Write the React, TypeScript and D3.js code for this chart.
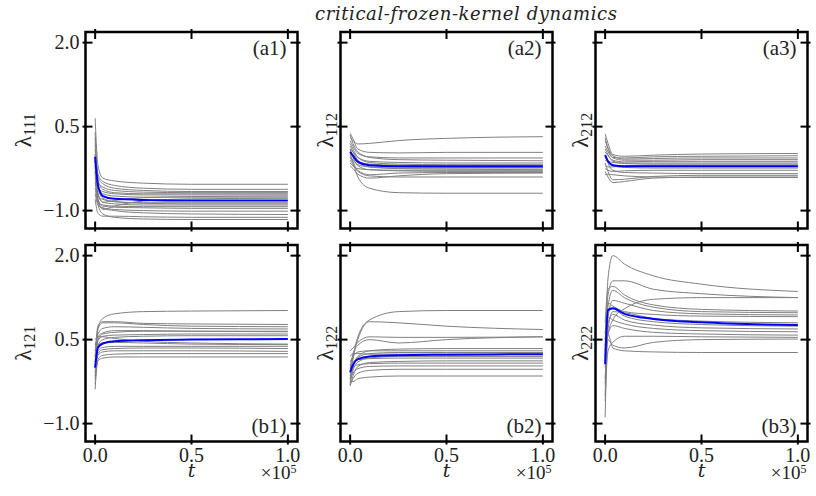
import React from "react";
import * as d3 from "d3";

// ---------- data ----------
const tGrid = [0, 0.015, 0.04, 0.1, 0.25, 0.5, 1.0];
const xTicks = [0, 0.5, 1.0];
const xTickLabels = ["0.0", "0.5", "1.0"];
const yTicks = [-1.0, 0.5, 2.0];
const yTickLabels = ["\u22121.0", "0.5", "2.0"];
const panelTags = ["(a1)", "(a2)", "(a3)", "(b1)", "(b2)", "(b3)"];
const ySubscripts = ["111", "112", "212", "121", "122", "222"];
const titleText = "critical-frozen-kernel dynamics";

const a1Gray = [
  [0.65, -0.2, -0.42, -0.47, -0.51, -0.53, -0.53],
  [0.3, -0.35, -0.48, -0.55, -0.6, -0.62, -0.62],
  [0.1, -0.4, -0.52, -0.6, -0.64, -0.66, -0.66],
  [-0.1, -0.5, -0.58, -0.64, -0.67, -0.68, -0.68],
  [0.2, -0.45, -0.62, -0.68, -0.7, -0.7, -0.7],
  [-0.3, -0.6, -0.66, -0.7, -0.72, -0.72, -0.72],
  [-0.2, -0.7, -0.85, -0.82, -0.77, -0.75, -0.74],
  [0.0, -0.55, -0.7, -0.74, -0.76, -0.76, -0.76],
  [-0.4, -0.8, -0.98, -0.92, -0.83, -0.79, -0.78],
  [-0.5, -0.75, -0.8, -0.84, -0.86, -0.86, -0.86],
  [0.4, -0.6, -0.78, -0.84, -0.87, -0.88, -0.88],
  [-0.2, -0.7, -0.85, -0.88, -0.9, -0.9, -0.9],
  [-0.6, -0.85, -0.9, -0.92, -0.93, -0.93, -0.93],
  [-0.1, -0.8, -0.92, -0.94, -0.95, -0.96, -0.96],
  [-0.7, -0.9, -0.95, -0.98, -1.0, -1.01, -1.01],
  [-0.3, -0.85, -0.96, -1.0, -1.04, -1.06, -1.07],
  [-0.8, -1.05, -1.1, -1.1, -1.11, -1.12, -1.12],
  [0.0, -0.9, -1.06, -1.12, -1.15, -1.16, -1.16],
];
const a1Mean = [-0.04, -0.55, -0.74, -0.79, -0.81, -0.82, -0.82];

const a2Gray = [
  [0.3, 0.25, 0.19, 0.2, 0.25, 0.29, 0.32],
  [0.38, 0.28, 0.1, 0.04, 0.03, 0.04, 0.04],
  [0.25, 0.15, 0.02, -0.04, -0.06, -0.06, -0.06],
  [0.35, 0.2, 0.05, -0.05, -0.09, -0.1, -0.11],
  [0.1, 0.05, -0.05, -0.12, -0.14, -0.15, -0.15],
  [0.2, 0.1, -0.05, -0.14, -0.17, -0.18, -0.18],
  [0.0, -0.05, -0.12, -0.17, -0.19, -0.2, -0.2],
  [0.15, 0.05, -0.1, -0.19, -0.22, -0.23, -0.23],
  [-0.05, -0.1, -0.18, -0.22, -0.24, -0.24, -0.24],
  [0.05, -0.02, -0.14, -0.22, -0.25, -0.26, -0.27],
  [-0.15, -0.2, -0.25, -0.27, -0.28, -0.28, -0.28],
  [0.1, -0.05, -0.2, -0.27, -0.29, -0.3, -0.3],
  [-0.1, -0.18, -0.28, -0.36, -0.33, -0.32, -0.32],
  [-0.2, -0.25, -0.35, -0.42, -0.38, -0.34, -0.33],
  [0.0, -0.12, -0.3, -0.38, -0.4, -0.4, -0.4],
  [-0.05, -0.15, -0.4, -0.6, -0.68, -0.69, -0.69],
];
const a2Mean = [0.05, -0.02, -0.13, -0.19, -0.21, -0.21, -0.21];

const a3Gray = [
  [0.37, 0.2, 0.0, -0.03, -0.01, 0.01, 0.02],
  [0.25, 0.1, -0.05, -0.06, -0.04, -0.03, -0.02],
  [0.3, 0.12, -0.02, -0.08, -0.07, -0.06, -0.06],
  [0.15, 0.05, -0.06, -0.1, -0.1, -0.09, -0.09],
  [0.05, -0.02, -0.1, -0.13, -0.12, -0.12, -0.12],
  [-0.1, -0.12, -0.14, -0.15, -0.15, -0.15, -0.15],
  [0.1, 0.0, -0.12, -0.16, -0.17, -0.17, -0.17],
  [-0.2, -0.22, -0.22, -0.2, -0.19, -0.19, -0.19],
  [-0.05, -0.12, -0.2, -0.23, -0.24, -0.24, -0.24],
  [-0.25, -0.28, -0.3, -0.29, -0.28, -0.28, -0.28],
  [0.0, -0.15, -0.28, -0.32, -0.33, -0.34, -0.34],
  [-0.15, -0.3, -0.45, -0.44, -0.39, -0.37, -0.37],
  [-0.3, -0.4, -0.5, -0.48, -0.42, -0.4, -0.4],
  [-0.36, -0.35, -0.36, -0.38, -0.4, -0.41, -0.41],
];
const a3Mean = [-0.01, -0.12, -0.19, -0.21, -0.21, -0.21, -0.21];

const b1Gray = [
  [0.0, 0.7, 0.88, 0.96, 1.0, 1.01, 1.02],
  [0.2, 0.75, 0.82, 0.82, 0.79, 0.78, 0.77],
  [0.1, 0.7, 0.8, 0.8, 0.77, 0.74, 0.73],
  [0.3, 0.6, 0.7, 0.73, 0.72, 0.7, 0.69],
  [-0.1, 0.5, 0.6, 0.63, 0.65, 0.65, 0.65],
  [0.4, 0.55, 0.62, 0.66, 0.66, 0.65, 0.64],
  [0.2, 0.48, 0.56, 0.58, 0.59, 0.6, 0.6],
  [-0.2, 0.4, 0.5, 0.54, 0.56, 0.57, 0.57],
  [0.5, 0.55, 0.55, 0.52, 0.47, 0.44, 0.42],
  [0.1, 0.3, 0.36, 0.38, 0.38, 0.38, 0.38],
  [-0.3, 0.25, 0.32, 0.34, 0.35, 0.35, 0.34],
  [0.0, 0.22, 0.28, 0.3, 0.3, 0.3, 0.29],
  [-0.39, 0.15, 0.22, 0.24, 0.25, 0.25, 0.25],
  [-0.15, 0.12, 0.17, 0.19, 0.19, 0.19, 0.19],
  [0.3, 0.4, 0.44, 0.45, 0.44, 0.42, 0.41],
];
const b1Mean = [0.0, 0.36, 0.43, 0.47, 0.49, 0.5, 0.51];

const b2Gray = [
  [-0.1, 0.2, 0.55, 0.85, 1.0, 1.02, 1.02],
  [-0.2, 0.15, 0.5, 0.82, 0.8, 0.74, 0.68],
  [0.0, 0.25, 0.4, 0.5, 0.44, 0.5, 0.55],
  [0.3, 0.35, 0.45, 0.55, 0.54, 0.54, 0.55],
  [-0.3, 0.0, 0.2, 0.3, 0.33, 0.34, 0.34],
  [0.1, 0.2, 0.28, 0.3, 0.3, 0.3, 0.3],
  [-0.15, 0.05, 0.18, 0.25, 0.27, 0.27, 0.27],
  [0.2, 0.25, 0.25, 0.24, 0.24, 0.24, 0.24],
  [-0.25, -0.05, 0.1, 0.17, 0.2, 0.2, 0.2],
  [0.05, 0.1, 0.14, 0.16, 0.17, 0.17, 0.17],
  [-0.33, -0.15, 0.02, 0.09, 0.11, 0.12, 0.12],
  [-0.1, 0.0, 0.05, 0.07, 0.08, 0.08, 0.08],
  [-0.2, -0.1, -0.02, 0.02, 0.03, 0.03, 0.03],
  [-0.3, -0.2, -0.1, -0.05, -0.03, -0.03, -0.03],
  [-0.25, -0.25, -0.2, -0.17, -0.15, -0.15, -0.15],
];
const b2Mean = [-0.08, 0.05, 0.15, 0.2, 0.22, 0.23, 0.24];

const b3Gray = [
  [0.2, 1.6, 2.0, 1.85, 1.64, 1.49, 1.36],
  [0.4, 1.3, 1.55, 1.55, 1.4, 1.32, 1.25],
  [-0.2, 0.6, 0.85, 1.05, 1.22, 1.25, 1.25],
  [0.8, 1.4, 1.45, 1.3, 1.12, 1.04, 1.01],
  [0.1, 1.1, 1.38, 1.25, 1.08, 1.0, 0.98],
  [-0.5, 0.9, 1.2, 1.15, 1.02, 0.96, 0.94],
  [0.6, 1.15, 1.1, 1.0, 0.95, 0.92, 0.91],
  [-0.89, 0.7, 1.0, 0.98, 0.88, 0.83, 0.8],
  [0.3, 1.0, 1.05, 0.92, 0.82, 0.77, 0.74],
  [-0.3, 0.8, 0.95, 0.85, 0.76, 0.71, 0.69],
  [0.5, 0.9, 0.85, 0.78, 0.7, 0.66, 0.64],
  [0.0, 0.6, 0.75, 0.7, 0.63, 0.6, 0.58],
  [-0.6, 0.3, 0.45, 0.56, 0.56, 0.55, 0.54],
  [0.2, 0.5, 0.4, 0.35, 0.45, 0.5, 0.51],
  [0.4, 0.6, 0.35, 0.3, 0.28, 0.27, 0.27],
];
const b3Mean = [0.06, 1.03, 1.06, 0.96, 0.87, 0.81, 0.76];

const grayGroups = [a1Gray, a2Gray, a3Gray, b1Gray, b2Gray, b3Gray];
const meanGroups = [a1Mean, a2Mean, a3Mean, b1Mean, b2Mean, b3Mean];

// ---------- layout ----------
const W = 816;
const H = 496;
const colLefts = [85.5, 340.5, 595.5];
const rowTops = [32, 245];
const PW = 212;
const PH = 196.5;
const FONT = '"Liberation Serif", "DejaVu Serif", serif';
const ITALIC_FONT = '"DejaVu Serif", serif';
const txt = { fontFamily: FONT };
const itx = { fontFamily: ITALIC_FONT };

function Panel({ idx }: { idx: number }) {
  const row = Math.floor(idx / 3);
  const col = idx % 3;
  const left = colLefts[col];
  const top = rowTops[row];
  const x = d3.scaleLinear().domain([-0.05, 1.05]).range([left, left + PW]);
  const y = d3.scaleLinear().domain([-1.32, 2.19]).range([top + PH, top]);
  const line = d3
    .line<number>()
    .x((_, i) => x(tGrid[i]))
    .y((v) => y(v))
    .curve(d3.curveMonotoneX);
  const clipId = `clip${idx}`;
  const tickIn = 7;
  const tickOut = 3;
  const right = left + PW;
  const bottom = top + PH;
  return (
    <g>
      <defs>
        <clipPath id={clipId}>
          <rect x={left} y={top} width={PW} height={PH} />
        </clipPath>
      </defs>
      <g clipPath={`url(#${clipId})`}>
        {grayGroups[idx].map((s, i) => (
          <path key={i} d={line(s) || ""} fill="none" stroke="#808080" strokeWidth={1} />
        ))}
        <path d={line(meanGroups[idx]) || ""} fill="none" stroke="#0000ff" strokeWidth={2} />
      </g>
      <rect x={left} y={top} width={PW} height={PH} fill="none" stroke="#000" strokeWidth={2.5} />
      {xTicks.map((t, i) => (
        <g key={"xt" + i} stroke="#000" strokeWidth={2}>
          <line x1={x(t)} x2={x(t)} y1={top - tickOut} y2={top + tickIn} />
          <line x1={x(t)} x2={x(t)} y1={bottom + tickOut} y2={bottom - tickIn} />
        </g>
      ))}
      {yTicks.map((v, i) => (
        <g key={"yt" + i} stroke="#000" strokeWidth={2}>
          <line x1={left - tickOut} x2={left + tickIn} y1={y(v)} y2={y(v)} />
          <line x1={right + tickOut} x2={right - tickIn} y1={y(v)} y2={y(v)} />
        </g>
      ))}
      {col === 0 &&
        yTicks.map((v, i) => (
          <text key={"yl" + i} x={left - 6} y={y(v) + 6.5} textAnchor="end" fontSize={20} style={txt} fill="#222">
            {yTickLabels[i]}
          </text>
        ))}
      {row === 1 && (
        <g fill="#222">
          {xTicks.map((t, i) => (
            <text key={"xl" + i} x={x(t)} y={bottom + 20.5} textAnchor="middle" fontSize={20} style={txt}>
              {xTickLabels[i]}
            </text>
          ))}
          <text x={x(0.5)} y={bottom + 35.5} textAnchor="middle" fontSize={19} fontStyle="italic" style={itx}>
            t
          </text>
          <text x={right - 1} y={bottom + 37} textAnchor="end" fontSize={19} style={txt}>
            ×10
            <tspan fontSize={12} dy={-6}>5</tspan>
          </text>
        </g>
      )}
      <text
        x={right - 11}
        y={row === 0 ? top + 23 : bottom - 9}
        textAnchor="end"
        fontSize={21}
        style={txt}
        fill="#222"
      >
        {panelTags[idx]}
      </text>
      <text
        transform={`translate(${col === 0 ? left - 55 : left - 8},${top + PH / 2}) rotate(-90)`}
        textAnchor="middle"
        style={txt}
        fill="#222"
      >
        <tspan fontSize={23}>λ</tspan>
        <tspan fontSize={16} dy={4}>{ySubscripts[idx]}</tspan>
      </text>
    </g>
  );
}

export default function App() {
  return (
    <svg
      width={W}
      height={H}
      viewBox={`0 0 ${W} ${H}`}
      style={{ position: "absolute", left: 0, top: 0, background: "#fff" }}
    >
      <rect x={0} y={0} width={W} height={H} fill="#fff" />
      <text
        x={466}
        y={20}
        textAnchor="middle"
        fontSize={18}
        fontStyle="italic"
        style={itx}
        fill="#222"
        textLength={302}
        lengthAdjust="spacing"
      >
        {titleText}
      </text>
      {d3.range(6).map((i) => (
        <Panel key={i} idx={i} />
      ))}
    </svg>
  );
}
